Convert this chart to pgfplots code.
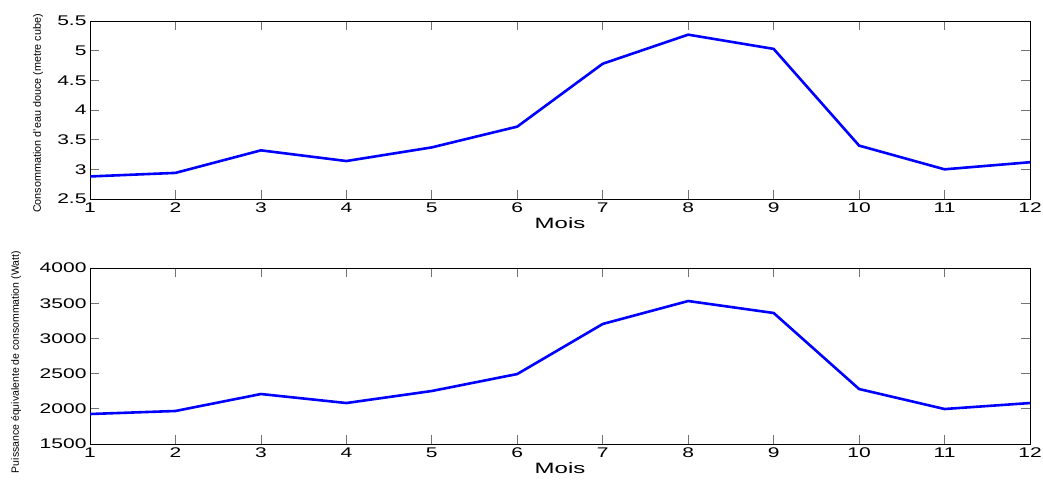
\documentclass[border=0pt]{standalone}
\usepackage{pgfplots}
\pgfplotsset{compat=1.18}
\usepackage{fontspec}
\setmainfont{Liberation Sans}
\newfontfamily\tickfont[FakeStretch=1.5]{Liberation Sans}
\newfontfamily\xlabfont[FakeStretch=1.6]{Liberation Sans}
\definecolor{mblue}{RGB}{0,0,255}
\pgfplotsset{
  matlab/.style={
    scale only axis,
    width=940pt,
    xmin=1, xmax=12,
    xtick={1,2,...,12},
    tick align=inside,
    major tick length=9pt,
    tick style={black!55, line width=0.8pt},
    axis line style={black, line width=0.8pt},
    tick label style={font=\fontsize{14}{14}\tickfont},
    /pgf/number format/assume math mode=true,
    /pgf/number format/1000 sep={},
    scaled y ticks=false,
    xlabel={Mois},
    xlabel style={font=\fontsize{15}{15}\xlabfont, yshift=2pt},
  },
  mline/.style={line width=2.6pt, color=mblue, mark=none},
}
\begin{document}
\begin{tikzpicture}
\path[use as bounding box] (0pt,0pt) rectangle (1043pt,-479pt);
\begin{axis}[
  matlab,
  at={(90pt,-199pt)}, anchor=south west,
  height=178pt,
  ymin=2.5, ymax=5.5,
  ytick={2.5,3,...,5.5},
  yticklabels={2.5,3,3.5,4,4.5,5,5.5},
  ylabel={Consommation d'eau douce (metre cube)},
  ylabel style={font=\fontsize{10.8}{10.8}\selectfont, at={(axis description cs:-0.0553,0.48)}, anchor=center},
]
\addplot[mline] coordinates {(1,2.88) (2,2.94) (3,3.32) (4,3.14) (5,3.37) (6,3.72) (7,4.78) (8,5.27) (9,5.03) (10,3.40) (11,3.00) (12,3.12)};
\end{axis}
\begin{axis}[
  matlab,
  at={(90pt,-444pt)}, anchor=south west,
  height=176pt,
  ymin=1500, ymax=4000,
  ytick={1500,2000,...,4000},
  ylabel={Puissance équivalente de consommation (Watt)},
  ylabel style={font=\fontsize{10.5}{10.5}\selectfont, at={(axis description cs:-0.0787,0.465)}, anchor=center},
]
\addplot[mline] coordinates {(1,1926) (2,1969) (3,2210) (4,2082) (5,2253) (6,2494) (7,3205) (8,3531) (9,3361) (10,2281) (11,1997) (12,2082)};
\end{axis}
\end{tikzpicture}
\end{document}
